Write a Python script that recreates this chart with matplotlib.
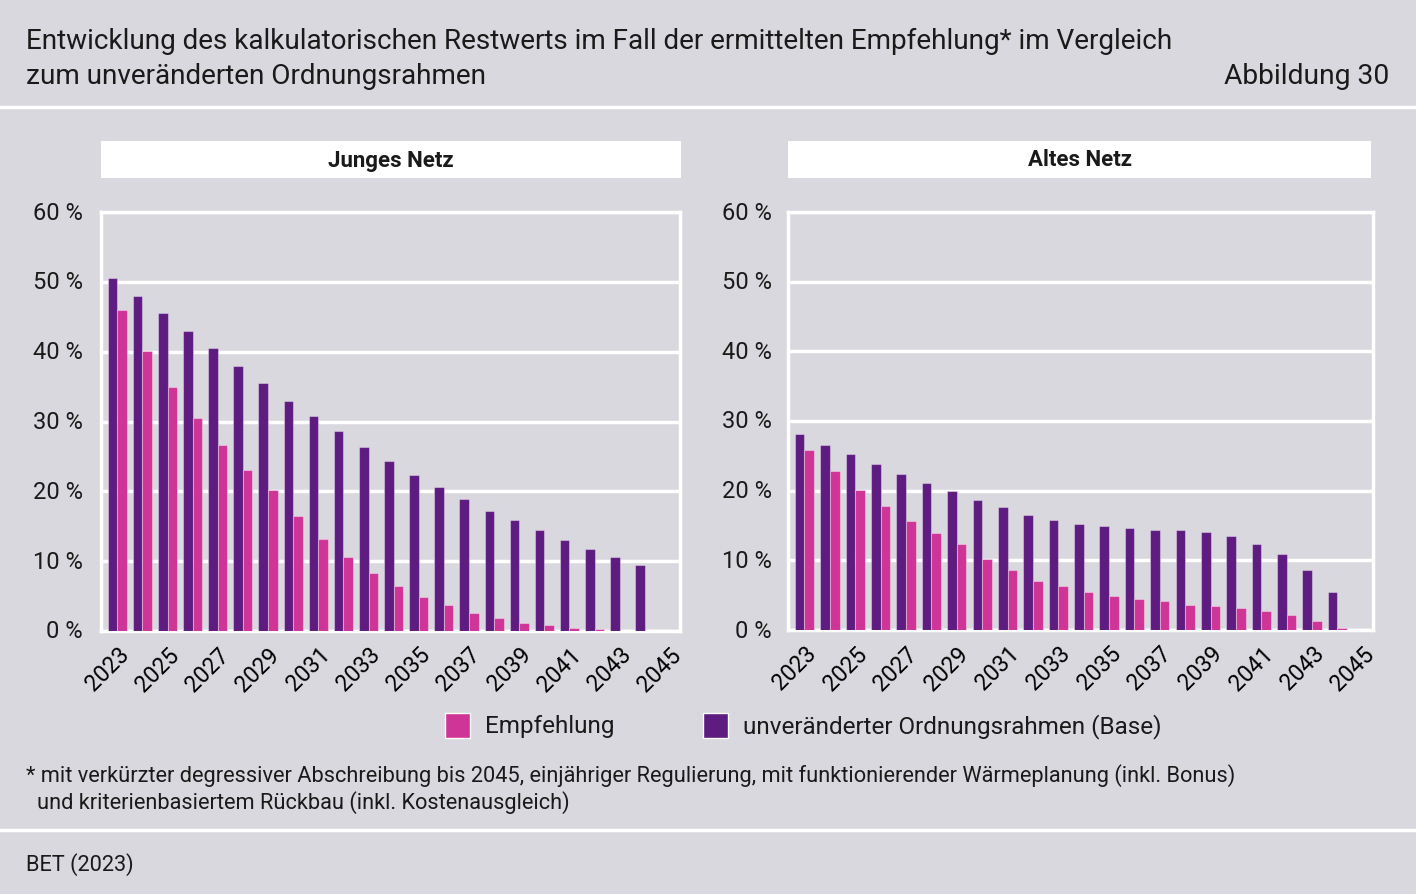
import matplotlib
matplotlib.use('Agg')
from matplotlib import pyplot as plt
from matplotlib.patches import Rectangle

years = list(range(2023, 2046))
tick_years = [str(y) if (y - 2023) % 2 == 0 else '' for y in years]

# Junges Netz (%)
jung_base = [50.6, 48.0, 45.5, 43.0, 40.5, 37.9, 35.5, 33.0, 30.8, 28.6, 26.4, 24.3,
             22.4, 20.6, 18.9, 17.2, 15.9, 14.4, 13.1, 11.8, 10.6, 9.4, 0.0]
jung_empf = [46.0, 40.1, 35.0, 30.5, 26.6, 23.1, 20.2, 16.4, 13.2, 10.6, 8.3, 6.4,
             4.9, 3.7, 2.6, 1.8, 1.2, 0.8, 0.4, 0.25, 0.05, 0.0, 0.0]
# Altes Netz (%)
alt_base = [28.1, 26.6, 25.2, 23.8, 22.4, 21.1, 19.9, 18.7, 17.6, 16.5, 15.8, 15.2,
            14.9, 14.7, 14.4, 14.4, 14.1, 13.5, 12.4, 10.9, 8.6, 5.4, 0.0]
alt_empf = [25.9, 22.8, 20.1, 17.8, 15.7, 13.9, 12.3, 10.2, 8.6, 7.1, 6.3, 5.5,
            4.9, 4.5, 4.1, 3.6, 3.4, 3.1, 2.7, 2.1, 1.3, 0.3, 0.0]

BG = '#D9D8DE'
PURPLE = '#5E1B80'
PINK = '#CF3597'
plt.rcParams['font.family'] = ['Roboto', 'DejaVu Sans']
plt.rcParams['text.color'] = '#1a1a1a'

W, H = 1416, 894
fig = plt.figure(figsize=(W / 100, H / 100), dpi=100, facecolor=BG)

def px_axes(x0, y0, x1, y1):
    return fig.add_axes([x0 / W, 1 - y1 / H, (x1 - x0) / W, (y1 - y0) / H])

# header / footer
fig.text(26 / W, 1 - 41 / H, 'Entwicklung des kalkulatorischen Restwerts im Fall der ermittelten Empfehlung* im Vergleich',
         fontsize=20.1, va='center', ha='left')
fig.text(26 / W, 1 - 76 / H, 'zum unveränderten Ordnungsrahmen', fontsize=20.1, va='center', ha='left')
fig.text(1389 / W, 1 - 76 / H, 'Abbildung 30', fontsize=20.3, va='center', ha='right')
fig.add_artist(plt.Line2D([0, 1], [1 - 107 / H] * 2, color='white', lw=2.5))
fig.add_artist(plt.Line2D([0, 1], [1 - 830 / H] * 2, color='white', lw=2.5))
fig.text(26 / W, 1 - 776 / H, '* mit verkürzter degressiver Abschreibung bis 2045, einjähriger Regulierung, mit funktionierender Wärmeplanung (inkl. Bonus)',
         fontsize=15.7, va='center', ha='left')
fig.text(37 / W, 1 - 803 / H, 'und kriterienbasiertem Rückbau (inkl. Kostenausgleich)', fontsize=15.7, va='center', ha='left')
fig.text(26 / W, 1 - 865 / H, 'BET (2023)', fontsize=15.7, va='center', ha='left')

# legend
for sx, col, lab in [(445, PINK, 'Empfehlung'), (703, PURPLE, 'unveränderter Ordnungsrahmen (Base)')]:
    fig.add_artist(Rectangle((sx / W, 1 - 738 / H), 25 / W, 25 / H, facecolor=col,
                             edgecolor='white', lw=1, transform=fig.transFigure))
    fig.text((sx + 40) / W, 1 - 727 / H, lab, fontsize=17.5, va='center', ha='left')

panels = [
    ('Junges Netz', jung_base, jung_empf, (101, 212, 680, 631), (101, 141, 681, 178), 83),
    ('Altes Netz', alt_base, alt_empf, (788, 212, 1373, 630), (788, 141, 1371, 178), 772),
]

for title, base, empf, box, tbox, lab_x in panels:
    fig.add_artist(Rectangle((tbox[0] / W, 1 - tbox[3] / H), (tbox[2] - tbox[0]) / W, (tbox[3] - tbox[1]) / H,
                             facecolor='white', edgecolor='none', transform=fig.transFigure))
    fig.text((tbox[0] + tbox[2]) / 2 / W, 1 - ((tbox[1] + tbox[3]) / 2 + 1) / H, title,
             fontsize=16, fontweight='bold', ha='center', va='center')

    ax = px_axes(*box)
    ax.set_facecolor(BG)
    x = list(range(len(years)))
    bw = 0.38
    ax.bar([i - bw / 2 for i in x], base, width=bw, color=PURPLE, edgecolor=(1, 1, 1, 0.35), lw=0.8, zorder=3)
    ax.bar([i + bw / 2 for i in x], empf, width=bw, color=PINK, edgecolor=(1, 1, 1, 0.35), lw=0.8, zorder=3)
    ax.set_xlim(-0.65, 22.4)
    ax.set_ylim(0, 60)
    ax.set_yticks(range(0, 61, 10))
    ax.set_yticklabels([])
    for v in range(0, 61, 10):
        fig.text(lab_x / W, 1 - (box[3] - (box[3] - box[1]) * v / 60 + 1) / H, f'{v} %',
                 fontsize=17, ha='right', va='center')
    ax.grid(axis='y', color='white', lw=2.5, zorder=1)
    ax.set_axisbelow(True)
    for s in ax.spines.values():
        s.set_color('white')
        s.set_linewidth(2.5)
    ax.set_xticks(x)
    ax.set_xticklabels(tick_years, rotation=45, ha='right', rotation_mode='anchor', fontsize=16.5)
    ax.tick_params(length=0, pad=9)

fig.savefig('out.png', dpi=100, facecolor=BG)
